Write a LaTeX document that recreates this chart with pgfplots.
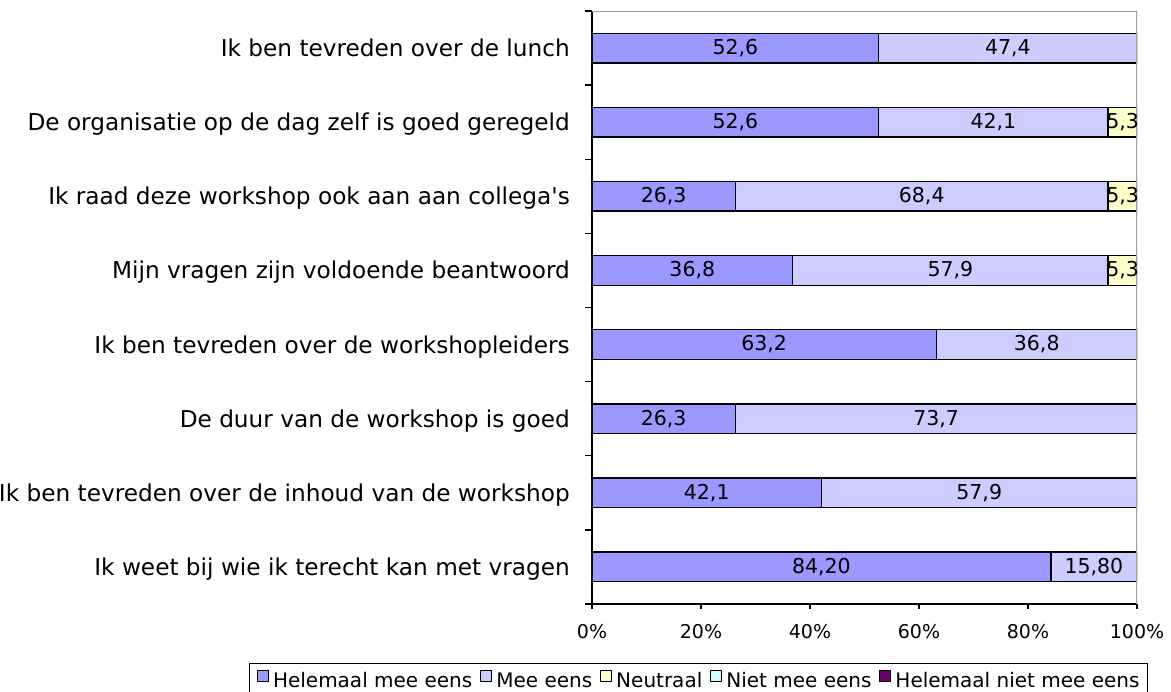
\documentclass[border=0pt]{standalone}
\usepackage{pgfplots}
\usepackage{pgfplotstable}
\pgfplotsset{compat=1.18}
\usepackage{fontspec}
\setmainfont{DejaVu Sans}
\definecolor{c1}{HTML}{9999FF}
\definecolor{c2}{HTML}{CCCCFF}
\definecolor{c3}{HTML}{FFFFCC}
\definecolor{c4}{HTML}{CCFFFF}
\definecolor{c5}{HTML}{660066}
\definecolor{framegray}{HTML}{A0A0A0}

\pgfplotstableread{
y he me ne
0 84.2 15.8 0
1 42.1 57.9 0
2 26.3 73.7 0
3 63.2 36.8 0
4 36.8 57.9 5.3
5 26.3 68.4 5.3
6 52.6 42.1 5.3
7 52.6 47.4 0
}\data

\pgfplotstableread{
x y lab
42.1 0 84,20
92.1 0 15,80
21.05 1 42,1
71.05 1 57,9
13.15 2 26,3
63.15 2 73,7
31.6 3 63,2
81.6 3 36,8
18.4 4 36,8
65.75 4 57,9
97.35 4 5,3
13.15 5 26,3
60.5 5 68,4
97.35 5 5,3
26.3 6 52,6
73.65 6 42,1
97.35 6 5,3
26.3 7 52,6
76.3 7 47,4
}\labels

\pgfplotsset{sqlegend/.style={legend image code/.code={\draw[##1, draw=black, line width=1pt] (0pt,0pt) rectangle (11pt,11pt);}}}

\begin{document}
\begin{tikzpicture}
\begin{axis}[
  at={(592pt,-604pt)}, anchor=south west,
  scale only axis, width=545pt, height=593pt,
  xbar stacked, bar width=0.4,
  xmin=0, xmax=100, ymin=-0.5, ymax=7.5,
  axis x line*=bottom, axis y line*=left,
  axis line style={black, line width=1.3pt, -},
  xtick={0,20,40,60,80,100},
  xticklabels={0\%,20\%,40\%,60\%,80\%,100\%},
  xticklabel style={font=\fontsize{19}{23}\selectfont, anchor=base, inner sep=0pt, yshift=-29.5pt},
  ytick={0,1,2,3,4,5,6,7},
  yticklabels={{Ik weet bij wie ik terecht kan met vragen},
    {Ik ben tevreden over de inhoud van de workshop},
    {De duur van de workshop is goed},
    {Ik ben tevreden over de workshopleiders},
    {Mijn vragen zijn voldoende beantwoord},
    {Ik raad deze workshop ook aan aan collega\textquotesingle s},
    {De organisatie op de dag zelf is goed geregeld},
    {Ik ben tevreden over de lunch}},
  yticklabel style={font=\fontsize{23.2}{28}\selectfont, anchor=base east, inner sep=0pt, xshift=-17pt, yshift=-8.45pt},
  minor ytick={-0.5,0.5,1.5,2.5,3.5,4.5,5.5,6.5,7.5},
  tick align=outside,
  major tick length=5pt, minor tick length=7pt,
  major y tick style={draw=none},
  tick style={black, line width=1.3pt},
  legend columns=-1,
  legend cell align=left,
  legend style={at={(1.0202,-0.0995)}, anchor=north east, draw=black, line width=1pt,
    font=\fontsize{20}{24}\selectfont, inner xsep=8pt, inner ysep=6pt,
    nodes={inner sep=0pt},
    /tikz/every odd column/.append style={column sep=4pt},
    /tikz/every even column/.append style={column sep=8pt}},
]
\draw[framegray, line width=2pt] (axis cs:0,7.5) -- (axis cs:100,7.5) -- (axis cs:100,-0.5);
\addplot[fill=c1, draw=black, line width=1.3pt, sqlegend] table[x=he, y=y] {\data};
\addlegendentry{Helemaal mee eens}
\addplot[fill=c2, draw=black, line width=1.3pt, sqlegend] table[x=me, y=y] {\data};
\addlegendentry{Mee eens}
\addplot[fill=c3, draw=black, line width=1.3pt, sqlegend] table[x=ne, y=y] {\data};
\addlegendentry{Neutraal}
\addlegendimage{fill=c4, sqlegend}
\addlegendentry{Niet mee eens}
\addlegendimage{fill=c5, sqlegend}
\addlegendentry{Helemaal niet mee eens}
\end{axis}
\begin{axis}[
  at={(592pt,-604pt)}, anchor=south west,
  scale only axis, width=545pt, height=593pt,
  xmin=0, xmax=100, ymin=-0.5, ymax=7.5,
  hide axis,
]
\addplot[only marks, mark=none, nodes near coords, point meta=explicit symbolic,
  every node near coord/.append style={anchor=center, inner sep=0pt, font=\fontsize{20.5}{24}\selectfont, text=black}]
  table[x=x, y=y, meta=lab] {\labels};
\end{axis}
\pgfresetboundingbox
\useasboundingbox (0pt,-692pt) rectangle (1171pt,0pt);
\end{tikzpicture}
\end{document}
